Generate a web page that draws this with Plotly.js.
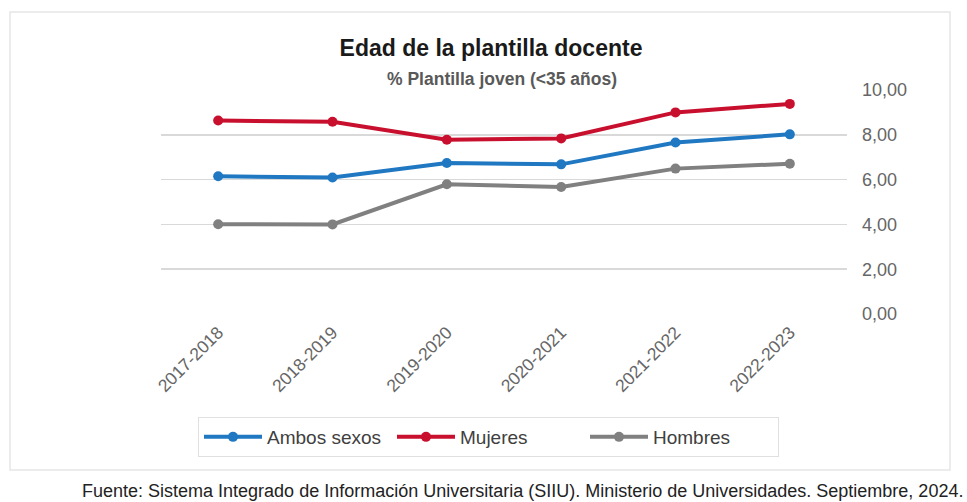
<!DOCTYPE html>
<html>
<head>
<meta charset="utf-8">
<script src="https://cdn.plot.ly/plotly-3.0.1.min.js"></script>
<style>html,body{margin:0;padding:0;background:#fff;}#chart{width:967px;height:502px;}</style>
</head>
<body>
<div id="chart"></div>
<script>
const categories = ["2017-2018","2018-2019","2019-2020","2020-2021","2021-2022","2022-2023"];
const ambosSexos = [6.15, 6.09, 6.74, 6.68, 7.66, 8.02];
const mujeres = [8.64, 8.58, 7.78, 7.84, 9.00, 9.38];
const hombres = [4.01, 4.00, 5.79, 5.67, 6.49, 6.71];
const yTicks = [0, 2, 4, 6, 8, 10];

function series(name, y, color) {
  return {
    type: 'scatter', mode: 'lines+markers', name: name,
    x: categories, y: y,
    line: {color: color, width: 4},
    marker: {color: color, size: 10}
  };
}

const data = [
  series('Ambos sexos', ambosSexos, '#1f78c1'),
  series('Mujeres', mujeres, '#c8102e'),
  series('Hombres', hombres, '#808080')
];

const FONT = '"Liberation Sans", Arial, sans-serif';
const px = v => (v - 161) / 686;
const py = v => (314 - v) / 224;

const layout = {
  width: 967, height: 502,
  margin: {l: 161, r: 120, t: 90, b: 188},
  paper_bgcolor: '#ffffff', plot_bgcolor: '#ffffff',
  separators: ',.',
  font: {family: FONT, color: '#595959'},
  xaxis: {
    type: 'category', range: [-0.5, 5.5],
    tickangle: -45, showgrid: false, zeroline: false, showline: false,
    ticks: '', ticklabelstandoff: 4,
    tickfont: {size: 17.5, color: '#666666'}
  },
  yaxis: {
    side: 'right', range: [0, 10], tickvals: yTicks, tickformat: '.2f',
    showgrid: true, gridcolor: '#d9d9d9', gridwidth: 1.5, zeroline: false,
    ticks: '', ticklabelstandoff: 14,
    tickfont: {size: 18, color: '#666666'}
  },
  title: {
    text: 'Edad de la plantilla docente',
    font: {family: FONT, size: 23, color: '#1a1a1a', weight: 'bold'},
    x: 491 / 967, xref: 'container', xanchor: 'center',
    y: 1 - 48 / 502, yref: 'container', yanchor: 'middle'
  },
  annotations: [
    {text: '<b>% Plantilla joven (&lt;35 años)</b>', xref: 'paper', yref: 'paper',
     x: px(502), y: py(79), xanchor: 'center', yanchor: 'middle',
     showarrow: false, font: {family: FONT, size: 17.5, color: '#595959'}},
    {text: 'Fuente: Sistema Integrado de Información Universitaria (SIIU). Ministerio de Universidades. Septiembre, 2024.',
     xref: 'paper', yref: 'paper', x: px(965), y: py(491),
     xanchor: 'right', yanchor: 'middle', showarrow: false,
     font: {family: FONT, size: 18, color: '#222222'}}
  ],
  shapes: [
    {type: 'rect', xref: 'paper', yref: 'paper',
     x0: px(10), x1: px(950), y0: py(470), y1: py(12),
     line: {color: '#e6e6e6', width: 1.5}, fillcolor: 'rgba(0,0,0,0)', layer: 'below'}
  ],
  showlegend: true,
  legend: {
    orientation: 'h', xref: 'paper', yref: 'paper',
    x: px(198), y: py(417), xanchor: 'left', yanchor: 'top',
    bordercolor: '#e0e0e0', borderwidth: 1, bgcolor: '#ffffff',
    itemwidth: 58, entrywidth: 120, entrywidthmode: 'pixels',
    font: {size: 19, color: '#404040'}
  }
};

Plotly.newPlot('chart', data, layout, {displayModeBar: false, staticPlot: true});
</script>
</body>
</html>
